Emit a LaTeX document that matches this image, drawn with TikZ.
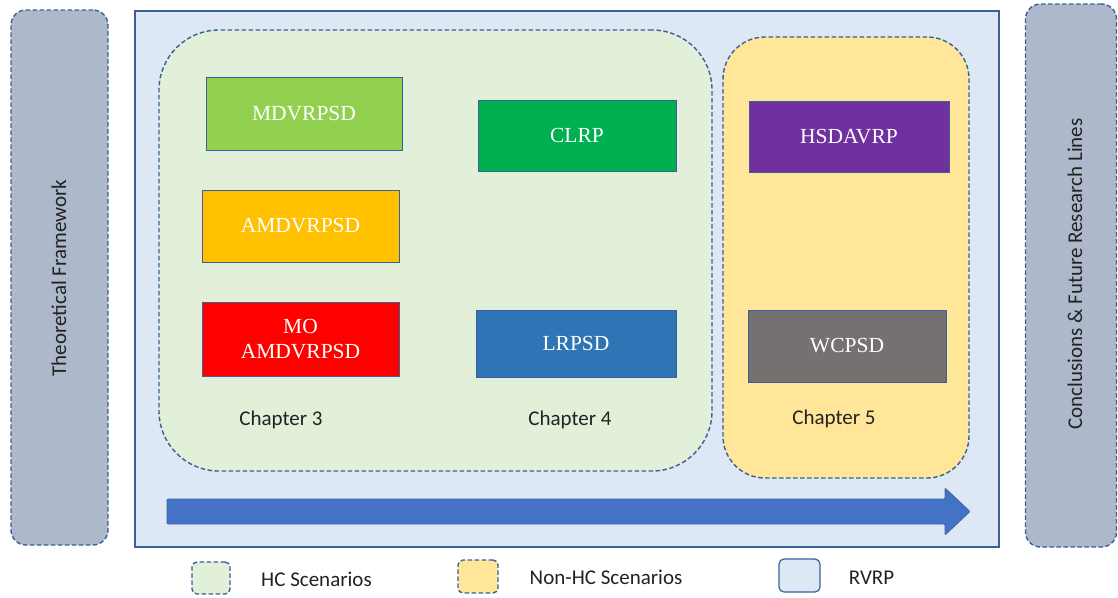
\documentclass[tikz,border=0pt]{standalone}
\usepackage{fontspec}
\setmainfont{Carlito}
\newfontfamily\boxfont{Liberation Serif}
\definecolor{rvrpbg}{HTML}{DEE8F4}
\definecolor{hcgreen}{HTML}{E2EFD9}
\definecolor{nonhc}{HTML}{FFE699}
\definecolor{sidegray}{HTML}{ADB8CA}
\definecolor{edgeblue}{HTML}{3A5F9A}
\definecolor{arrowblue}{HTML}{4472C4}
\definecolor{cMD}{HTML}{92D050}
\definecolor{cAMD}{HTML}{FFC000}
\definecolor{cMO}{HTML}{FF0000}
\definecolor{cCL}{HTML}{00B050}
\definecolor{cLR}{HTML}{2E75B6}
\definecolor{cHS}{HTML}{7030A0}
\definecolor{cWC}{HTML}{767171}
\definecolor{txt}{HTML}{222222}
\tikzset{
  region/.style={draw=edgeblue, line width=1.4pt, dash pattern=on 4.5pt off 2.5pt, rounded corners=#1, inner sep=0pt},
  pbox/.style={draw=edgeblue, line width=1pt, fill=#1, text=white, inner sep=0pt, font=\boxfont\fontsize{21.5}{25}\selectfont, align=center},
  lbl/.style={text=txt, font=\fontsize{21}{25}\selectfont, inner sep=0pt},
}
\begin{document}
\begin{tikzpicture}[x=1pt,y=-1pt]
\useasboundingbox (0,0) rectangle (1118,597);
% side panels
\node[region=15pt, fill=sidegray, minimum width=97pt, minimum height=535pt] (theo) at (59.5,277.5) {};
\node[lbl, rotate=90] (theot) at (59,278) {Theoretical Framework};
\node[region=15pt, fill=sidegray, minimum width=91pt, minimum height=543pt] (conc) at (1071,275.5) {};
\node[lbl, rotate=90] (conct) at (1075,274) {Conclusions \& Future Research Lines};
% main RVRP frame
\node[draw=edgeblue, line width=1.2pt, fill=rvrpbg, minimum width=864pt, minimum height=536pt, inner sep=0pt] (rvrp) at (567,279) {};
% scenario regions
\node[region=60pt, fill=hcgreen, minimum width=553pt, minimum height=441pt] (hc) at (435.5,250.5) {};
\node[region=42pt, fill=nonhc, minimum width=246pt, minimum height=441pt] (nhc) at (846,257.5) {};
% problem boxes
\node[pbox=cMD, minimum width=196pt, minimum height=73pt] (md) at (304,113.5) {MDVRPSD};
\node[pbox=cAMD, minimum width=197pt, minimum height=72pt] (amd) at (300.5,226) {AMDVRPSD};
\node[pbox=cMO, minimum width=197pt, minimum height=74pt] (mo) at (300.5,339) {MO\\AMDVRPSD};
\node[pbox=cCL, minimum width=198pt, minimum height=71pt] (cl) at (577,135.5) {CLRP};
\node[pbox=cLR, minimum width=200pt, minimum height=67pt] (lr) at (576,343.5) {LRPSD};
\node[pbox=cHS, minimum width=200pt, minimum height=71pt] (hs) at (849,136.5) {HSDAVRP};
\node[pbox=cWC, minimum width=198pt, minimum height=72pt] (wc) at (847,346) {WCPSD};
% chapter labels
\node[lbl, anchor=base] (ch3) at (281,425) {Chapter 3};
\node[lbl, anchor=base] (ch4) at (570,425) {Chapter 4};
\node[lbl, anchor=base] (ch5) at (834,424) {Chapter 5};
% progress arrow
\fill[arrowblue, draw=edgeblue!70!arrowblue, line width=0.8pt, rounded corners=1pt]
  (167,499) -- (945,499) -- (945,488) -- (970,511.5) -- (945,535) -- (945,524) -- (167,524) -- cycle;
% legend
\node[region=5pt, fill=hcgreen, minimum width=38pt, minimum height=32pt] (lg1) at (211,578) {};
\node[lbl, anchor=base] (lt1) at (316.5,586) {HC Scenarios};
\node[region=5pt, fill=nonhc, minimum width=40pt, minimum height=33pt] (lg2) at (478,576.5) {};
\node[lbl, anchor=base] (lt2) at (606,584) {Non-HC Scenarios};
\node[draw=edgeblue, line width=1.2pt, rounded corners=5pt, fill=rvrpbg, minimum width=41pt, minimum height=33pt, inner sep=0pt] (lg3) at (799.5,575.5) {};
\node[lbl, anchor=base] (lt3) at (871.5,584) {RVRP};
\end{tikzpicture}
\end{document}
